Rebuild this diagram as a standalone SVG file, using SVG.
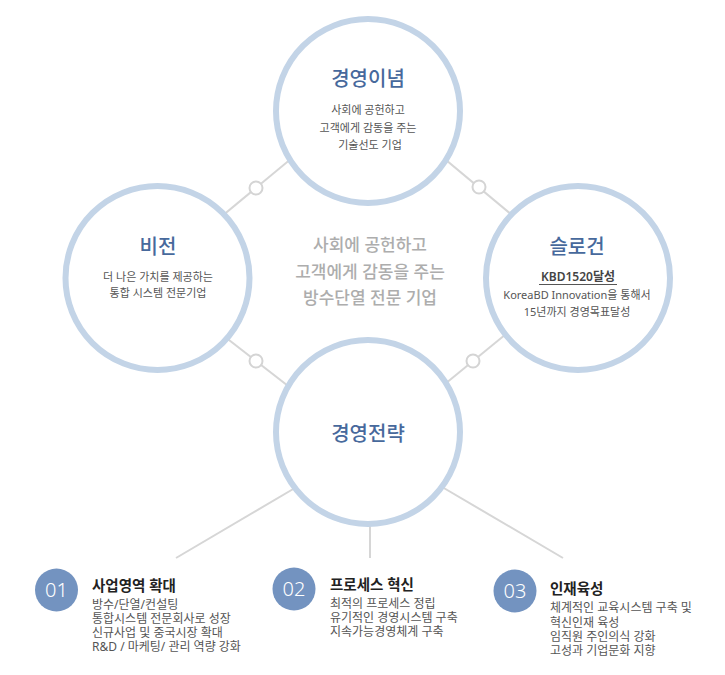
<svg xmlns="http://www.w3.org/2000/svg" width="725" height="675" viewBox="0 0 725 675">
<style>
text{font-family:"Noto Sans","Noto Sans CJK KR",sans-serif;}
.ring{fill:#fff;stroke:#c3d4e7;stroke-width:6;}
.dot{fill:#fff;stroke:#d4d4d4;stroke-width:2;}
.ln{stroke:#d6d6d6;stroke-width:2;fill:none;}
.ttl{font-size:20px;fill:#47699c;font-weight:500;text-anchor:middle;}
.bd{font-size:11px;fill:#555;text-anchor:middle;}
.ctr{font-size:17px;fill:#adadad;font-weight:500;text-anchor:middle;}
.num{fill:#7393c0;}
.numt{font-size:20px;fill:#fff;font-weight:300;text-anchor:middle;}
.it{font-size:14.5px;fill:#222;font-weight:700;}
.ib{font-size:12px;fill:#555;}
</style>
<rect width="725" height="675" fill="#fff"/>
<g id="connectors">
<line class="ln" x1="157" y1="270" x2="368" y2="95"/>
<line class="ln" x1="368" y1="95" x2="578" y2="270"/>
<line class="ln" x1="157" y1="284" x2="368" y2="448"/>
<line class="ln" x1="578" y1="275" x2="368" y2="447"/>
<line class="ln" x1="300" y1="485" x2="176" y2="558"/>
<line class="ln" x1="370" y1="520" x2="370" y2="558"/>
<line class="ln" x1="437" y1="484" x2="563" y2="558"/>
<circle class="dot" cx="256" cy="188" r="6.5"/>
<circle class="dot" cx="479" cy="187" r="6.5"/>
<circle class="dot" cx="256" cy="361" r="6.5"/>
<circle class="dot" cx="473" cy="361" r="6.5"/>
</g>
<g id="top">
<circle class="ring" cx="368" cy="111" r="92"/>
<text class="ttl" x="368" y="86">경영이념</text>
<text class="bd" x="368" y="114">사회에 공헌하고</text>
<text class="bd" x="368" y="132">고객에게 감동을 주는</text>
<text class="bd" x="370" y="149">기술선도 기업</text>
</g>
<g id="left">
<circle class="ring" cx="157.5" cy="278" r="92"/>
<text class="ttl" x="158" y="254">비전</text>
<text class="bd" x="158" y="281">더 나은 가치를 제공하는</text>
<text class="bd" x="158" y="297">통합 시스템 전문기업</text>
</g>
<g id="right">
<circle class="ring" cx="578" cy="278" r="92"/>
<text class="ttl" x="577" y="254">슬로건</text>
<text class="bd" x="578" y="281" style="font-size:12px;font-weight:600;fill:#444;">KBD1520달성</text>
<line x1="539" y1="284.5" x2="617" y2="284.5" stroke="#555" stroke-width="1"/>
<text class="bd" x="577" y="299">KoreaBD Innovation을 통해서</text>
<text class="bd" x="577" y="316">15년까지 경영목표달성</text>
</g>
<g id="center-text">
<text class="ctr" x="370" y="251">사회에 공헌하고</text>
<text class="ctr" x="370" y="278">고객에게 감동을 주는</text>
<text class="ctr" x="370" y="304">방수단열 전문 기업</text>
</g>
<g id="bottom">
<circle class="ring" cx="368" cy="432" r="92"/>
<text class="ttl" x="368" y="441">경영전략</text>
</g>
<g id="item1">
<circle class="num" cx="56.5" cy="590" r="21.5"/>
<text class="numt" x="56.5" y="597">01</text>
<text class="it" x="92" y="591">사업영역 확대</text>
<text class="ib" x="92" y="609">방수/단열/컨설팅</text>
<text class="ib" x="92" y="623">통합시스템 전문회사로 성장</text>
<text class="ib" x="92" y="637">신규사업 및 중국시장 확대</text>
<text class="ib" x="92" y="651">R&amp;D / 마케팅/ 관리 역량 강화</text>
</g>
<g id="item2">
<circle class="num" cx="294" cy="589" r="21.5"/>
<text class="numt" x="294" y="596">02</text>
<text class="it" x="330" y="590">프로세스 혁신</text>
<text class="ib" x="330" y="608">최적의 프로세스 정립</text>
<text class="ib" x="330" y="622">유기적인 경영시스템 구축</text>
<text class="ib" x="330" y="636">지속가능경영체계 구축</text>
</g>
<g id="item3">
<circle class="num" cx="515" cy="591" r="21.5"/>
<text class="numt" x="515" y="598">03</text>
<text class="it" x="550" y="594">인재육성</text>
<text class="ib" x="550" y="612">체계적인 교육시스템 구축 및</text>
<text class="ib" x="550" y="627">혁신인재 육성</text>
<text class="ib" x="550" y="641">임직원 주인의식 강화</text>
<text class="ib" x="550" y="655">고성과 기업문화 지향</text>
</g>
</svg>
